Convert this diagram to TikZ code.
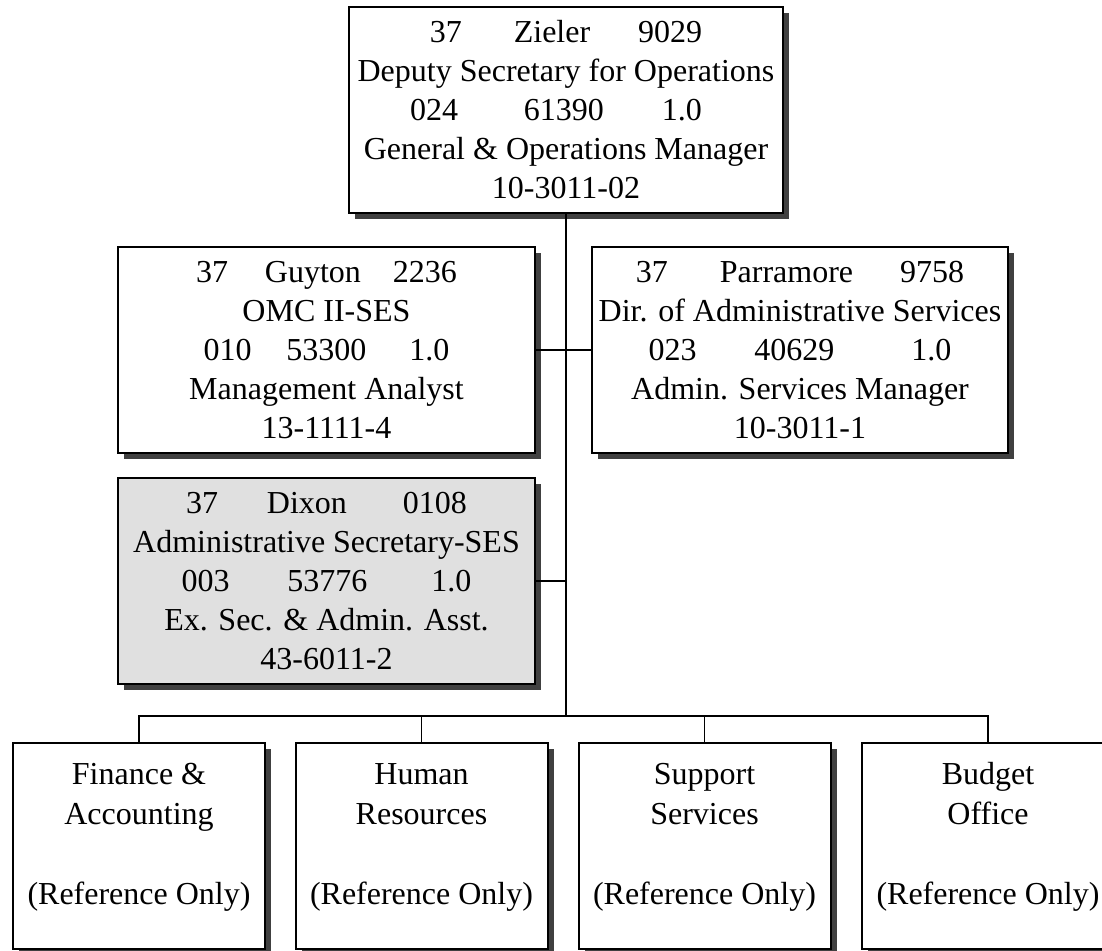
\documentclass[tikz,border=0pt]{standalone}
\usepackage{fontspec}
\setmainfont{Liberation Serif}
\usetikzlibrary{shadows}
\definecolor{shade}{RGB}{64,64,64}
\definecolor{panel}{RGB}{224,224,224}
% three items on one line with fixed gaps between them
\newcommand{\trio}[5]{#1\hspace{#2}#3\hspace{#4}#5}
% text of a reference-only unit: two title lines, a blank line, the note
\newcommand{\unittext}[2]{\rule{0pt}{24pt}#1\\#2\\\mbox{}\\(Reference Only)\rule[-28pt]{0pt}{0pt}}
\begin{document}
\begin{tikzpicture}[x=1pt,y=-1pt,
  card/.style={draw, line width=2pt, fill=white, inner sep=0pt, align=center,
    minimum height=206pt, font=\fontsize{32}{39}\selectfont,
    drop shadow={shadow xshift=6pt, shadow yshift=-6pt, fill=shade, opacity=1}},
  unit/.style={card, minimum width=252pt, font=\fontsize{32}{40}\selectfont},
  link/.style={line width=1.7pt, line join=miter}]
\useasboundingbox (0,0) rectangle (1102,950);
\clip (0,0) rectangle (1102,950);
\fill[white] (0,0) rectangle (1102,950);

% position boxes
\node[card, minimum width=434pt] (top) at (566,110)
  {\trio{37}{52pt}{Zieler}{48pt}{9029}\\
   Deputy Secretary for Operations\\
   \trio{024}{66pt}{61390}{58pt}{1.0}\rule{20pt}{0pt}\\
   General \& Operations Manager\\
   10-3011-02};
\node[card, minimum width=417pt] (guy) at (326.5,350)
  {\trio{37}{37pt}{Guyton}{32pt}{2236}\\
   OMC II-SES\\
   \trio{010}{35pt}{53300}{43pt}{1.0}\\
   Management Analyst\\
   13-1111-4};
\node[card, minimum width=416pt] (par) at (800,350)
  {\trio{37}{52pt}{Parramore}{47pt}{9758}\\
   Dir. of Administrative Services\\
   \trio{023}{58pt}{40629}{77pt}{1.0}\\
   Admin. Services Manager\\
   10-3011-1};
\node[card, minimum width=417pt, fill=panel] (dix) at (326.5,581)
  {\trio{37}{49pt}{Dixon}{56pt}{0108}\\
   Administrative Secretary-SES\\
   \trio{003}{58pt}{53776}{64pt}{1.0}\\
   Ex. Sec. \& Admin. Asst.\\
   43-6011-2};

% reference-only units
\node[unit] (fin) at (139,846)   {\unittext{Finance \&}{Accounting}};
\node[unit] (hr)  at (421.5,846) {\unittext{Human}{Resources}};
\node[unit] (sup) at (704.5,846) {\unittext{Support}{Services}};
\node[unit] (bud) at (988,846)   {\unittext{Budget}{Office}};

% reporting lines
\coordinate (hub) at (566,716);
\draw[link] (top.south) -- (hub);
\draw[link] (guy.east) -- (par.west);
\draw[link] (dix.east) -- (dix.east -| hub);
\draw[link] (fin.north) |- (hub) -| (bud.north);
\draw[link] (hr.north) -- (hr.north |- hub);
\draw[link] (sup.north) -- (sup.north |- hub);
\end{tikzpicture}
\end{document}
